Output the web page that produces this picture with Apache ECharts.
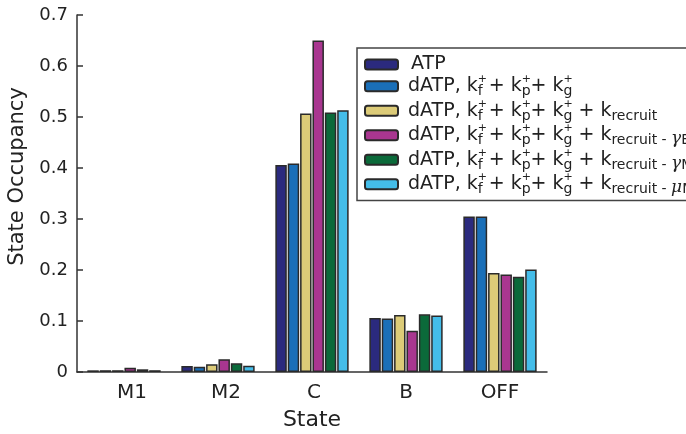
<!DOCTYPE html>
<html>
<head>
<meta charset="utf-8">
<script src="https://cdn.jsdelivr.net/npm/echarts@6/dist/echarts.min.js"></script>
<style>
  html, body { margin: 0; padding: 0; background: #fff; }
  #chart { width: 686px; height: 434px; }
</style>
</head>
<body>
<div id="chart"></div>
<script>
// Occupancy of each state for the nucleotide / rate-constant conditions
const states = ['M1', 'M2', 'C', 'B', 'OFF'];
const yTicks = [0, 0.1, 0.2, 0.3, 0.4, 0.5, 0.6, 0.7];

const atp            = [0.0033, 0.0118, 0.406, 0.106, 0.305];
const datpKfKpKg     = [0.0035, 0.0105, 0.409, 0.105, 0.305];
const datpRecruit    = [0.0035, 0.0150, 0.507, 0.112, 0.194];
const datpRecruitGB  = [0.0085, 0.0250, 0.650, 0.081, 0.191];
const datpRecruitGM  = [0.0053, 0.0170, 0.509, 0.113, 0.187];
const datpRecruitMuM = [0.0035, 0.0125, 0.513, 0.111, 0.201];

const seriesNames = ['ATP', 'kfkpkg', 'recruit', 'recruitGB', 'recruitGM', 'recruitMuM'];
const seriesValues = [atp, datpKfKpKg, datpRecruit, datpRecruitGB, datpRecruitGM, datpRecruitMuM];
const seriesColors = ['#2b2a7e', '#1a6fb8', '#dccb78', '#a93690', '#0b6a3a', '#44bde9'];

// rich-text legend labels (k with stacked sub/superscripts)
const kBase = '{g| }{m|dATP, k}{sp|+}{sb|f}{m| + k}{sp|+}{sb|p}{m|+ k}{sp|+}{sb|g}';
const legendText = {
  ATP: '{g2| }{m|ATP}',
  kfkpkg: kBase,
  recruit: kBase + '{m| + k}{sb|recruit}',
  recruitGB: kBase + '{m| + k}{sb|recruit - }{gr|γ}{sb|B}',
  recruitGM: kBase + '{m| + k}{sb|recruit - }{gr|γ}{sb|M}',
  recruitMuM: kBase + '{m| + k}{sb|recruit - }{gr|μ}{sb|M}'
};

const font = '"DejaVu Sans", "Liberation Sans", Arial, sans-serif';
const ink = '#222';
const chart = echarts.init(document.getElementById('chart'), null, { renderer: 'canvas' });

chart.setOption({
  animation: false,
  textStyle: { fontFamily: font, color: ink },
  grid: { left: 77, right: 139, top: 15, bottom: 62, outerBoundsMode: 'none', containLabel: false },
  legend: {
    orient: 'vertical',
    left: 357,
    top: 48,
    itemWidth: 33,
    itemHeight: 10,
    itemGap: 0,
    padding: [7, 12, 4, 7],
    borderColor: '#444',
    borderWidth: 1.5,
    backgroundColor: '#fff',
    data: seriesNames,
    formatter: name => legendText[name],
    textStyle: {
      fontFamily: font,
      color: ink,
      rich: {
        g:  { width: 5, fontSize: 12, lineHeight: 24.5 },
        g2: { width: 8, fontSize: 12, lineHeight: 24.5 },
        m:  { fontSize: 19, fontFamily: font, color: ink, lineHeight: 24.5 },
        sp: { fontSize: 11, fontFamily: font, color: ink, width: 0, lineHeight: 13, verticalAlign: 'top' },
        sb: { fontSize: 14, fontFamily: font, color: ink, lineHeight: 15, verticalAlign: 'bottom' },
        gr: { fontSize: 17, fontFamily: '"DejaVu Serif", serif', fontStyle: 'italic', color: ink, lineHeight: 19, verticalAlign: 'bottom' }
      }
    }
  },
  xAxis: {
    type: 'category',
    data: states,
    name: 'State',
    nameLocation: 'middle',
    nameGap: 37,
    nameTextStyle: { fontSize: 22, color: ink, fontFamily: font },
    axisLine: { lineStyle: { color: '#333', width: 1.5 } },
    axisTick: { show: false },
    axisLabel: {
      interval: 0,
      hideOverlap: false,
      fontSize: 20,
      color: ink,
      margin: 11,
      formatter: v => (v === 'M1' || v === 'M2') ? '{s|' + v + '}' : (v === 'C' ? '{c|' + v + '}' : v),
      rich: {
        s: { fontSize: 20, color: ink, fontFamily: font, padding: [0, 0, 0, 16] },
        c: { fontSize: 20, color: ink, fontFamily: font, padding: [0, 0, 0, 4] }
      }
    }
  },
  yAxis: {
    type: 'value',
    min: 0,
    max: 0.7,
    interval: 0.1,
    name: 'State Occupancy',
    nameLocation: 'middle',
    nameGap: 42,
    nameTextStyle: { fontSize: 21, color: ink, fontFamily: font, padding: [0, 0, 0, 34] },
    axisLine: { show: true, lineStyle: { color: '#333', width: 1.5 } },
    axisTick: { show: true, inside: true, length: 6, lineStyle: { color: '#333', width: 1.5 } },
    splitLine: { show: false },
    axisLabel: {
      fontSize: 18,
      color: ink,
      margin: 9,
      formatter: v => {
        const t = yTicks.find(x => Math.abs(x - v) < 1e-9);
        return t === 0 ? '0' : String(+t.toFixed(1));
      }
    }
  },
  series: seriesNames.map((n, i) => ({
    name: n,
    type: 'bar',
    data: seriesValues[i],
    barGap: '8%',
    barCategoryGap: '22%',
    itemStyle: { color: seriesColors[i], borderColor: '#2a2a2a', borderWidth: 1.5 }
  }))
});
</script>
</body>
</html>
